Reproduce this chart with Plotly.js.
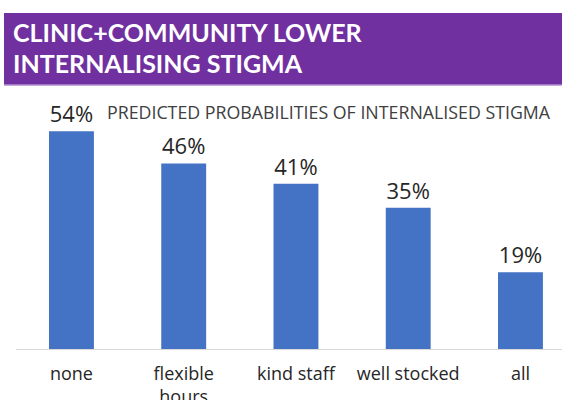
<!DOCTYPE html>
<html>
<head>
<meta charset="utf-8">
<script src="https://cdn.plot.ly/plotly-3.0.1.min.js"></script>
<style>html,body{margin:0;padding:0;background:#fff;}#chart{width:562px;height:400px;}</style>
</head>
<body>
<div id="chart"></div>
<script>
const categories = ["none", "flexible<br>hours", "kind staff", "well stocked", "all"];
const probabilities = [54, 46, 41, 35, 19];
const valueLabels = ["54%", "46%", "41%", "35%", "19%"];
const titleLines = ["CLINIC+COMMUNITY LOWER", "INTERNALISING STIGMA"];
const subtitle = "PREDICTED PROBABILITIES OF INTERNALISED STIGMA";

// plot area: x 16..562, y 107..349
const L = 16, R = 562, T = 107, B = 349;
const W = R - L, H = B - T;
const px = x => (x - L) / W;
const py = y => (B - y) / H;

const trace = {
  type: "bar",
  x: [0, 1, 2, 3, 4],
  y: probabilities,
  text: valueLabels,
  textposition: "outside",
  texttemplate: "%{text}",
  cliponaxis: false,
  width: 0.4,
  marker: { color: "#4472C4" },
  textfont: { family: "Open Sans, sans-serif", size: 22, color: "#262626" },
  hoverinfo: "none"
};

const layout = {
  width: 562, height: 400,
  margin: { l: L, r: 562 - R, t: T, b: 400 - B, pad: 0 },
  paper_bgcolor: "#ffffff",
  plot_bgcolor: "#ffffff",
  showlegend: false,
  xaxis: {
    range: [-0.494, 4.370],
    tickmode: "array",
    tickvals: [0, 1, 2, 3, 4],
    ticktext: categories,
    showline: true, linecolor: "#d9d9d9", linewidth: 1,
    showgrid: false, zeroline: false, ticks: "",
    tickfont: { family: "Open Sans, sans-serif", size: 18, color: "#262626" },
    ticklabelstandoff: 8
  },
  yaxis: {
    range: [0, 60],
    visible: false, showgrid: false, zeroline: false
  },
  shapes: [
    { type: "rect", xref: "paper", yref: "paper",
      x0: px(4), x1: px(562), y0: py(85), y1: py(13),
      fillcolor: "#7030A0", line: { width: 0 }, layer: "above" },
    { type: "line", xref: "paper", yref: "paper",
      x0: px(4), x1: px(562), y0: py(85), y1: py(85),
      line: { color: "#b08fd0", width: 1.5 } }
  ],
  annotations: [
    { xref: "paper", yref: "paper", x: px(11), y: py(32), xanchor: "left", yanchor: "middle",
      text: titleLines[0], showarrow: false,
      font: { family: "Lato, sans-serif", size: 25, color: "#ffffff", weight: "bold" } },
    { xref: "paper", yref: "paper", x: px(11), y: py(63), xanchor: "left", yanchor: "middle",
      text: titleLines[1], showarrow: false,
      font: { family: "Lato, sans-serif", size: 25, color: "#ffffff", weight: "bold" } },
    { xref: "paper", yref: "paper", x: px(105), y: py(112), xanchor: "left", yanchor: "middle",
      text: subtitle, showarrow: false,
      font: { family: "Open Sans, sans-serif", size: 17.8, color: "#404040" } }
  ]
};

Plotly.newPlot("chart", [trace], layout, { displayModeBar: false, staticPlot: true });
</script>
</body>
</html>
